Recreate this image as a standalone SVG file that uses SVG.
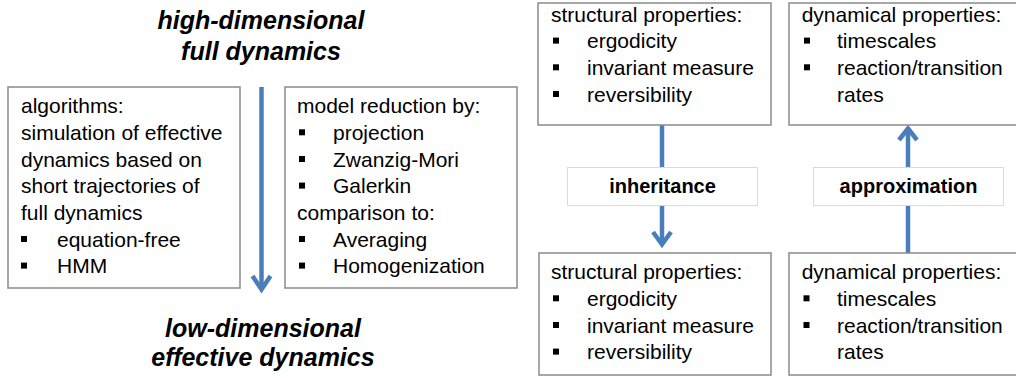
<svg xmlns="http://www.w3.org/2000/svg" width="1016" height="378" viewBox="0 0 1016 378">
<style>
.box{fill:#fff;stroke:#8a8a8a;stroke-width:1.5}
.lbl{fill:#fff;stroke:#dadada;stroke-width:1}
.t{font-family:"Liberation Sans",Arial,sans-serif;font-size:21px;fill:#000}
.b{font-family:"Liberation Sans",Arial,sans-serif;font-size:20px;font-weight:bold;fill:#000;text-anchor:middle}
.title{font-family:"Liberation Sans",Arial,sans-serif;font-size:25px;font-weight:bold;font-style:italic;fill:#000;text-anchor:middle}
.line{stroke:#4a7ebb;stroke-width:4.5;fill:none}
.head{stroke:#4a7ebb;stroke-width:4.5;fill:none;stroke-linejoin:miter;stroke-linecap:butt}
.bul{fill:#000}
</style>
<defs>
<rect id="bullet" width="6" height="6" class="bul"/>
</defs>

<g id="title-top">
<text class="title" x="261" y="29">high-dimensional</text>
<text class="title" x="261" y="60">full dynamics</text>
</g>
<g id="title-bottom">
<text class="title" x="263" y="337">low-dimensional</text>
<text class="title" x="263" y="366">effective dynamics</text>
</g>

<g id="connectors">
<line class="line" x1="261.5" y1="87" x2="261.5" y2="290"/>
<polyline class="head" points="252.5,276 261.5,289.5 270.5,276"/>
<line class="line" x1="662" y1="125" x2="662" y2="243"/>
<polyline class="head" points="653,232 662,244.5 671,232"/>
<line class="line" x1="908" y1="253" x2="908" y2="131"/>
<polyline class="head" points="899,140 908,128.5 917,140"/>
</g>

<g id="algorithms">
<rect class="box" x="8" y="87" width="232" height="201"/>
<text class="t" x="21" y="113">algorithms:</text>
<text class="t" x="21" y="140">simulation of effective</text>
<text class="t" x="21" y="166.7">dynamics based on</text>
<text class="t" x="21" y="193.3">short trajectories of</text>
<text class="t" x="21" y="220">full dynamics</text>
<use href="#bullet" x="21" y="236"/>
<text class="t" x="57" y="246.7">equation-free</text>
<use href="#bullet" x="21" y="262.6"/>
<text class="t" x="57" y="273.3">HMM</text>
</g>

<g id="model-reduction">
<rect class="box" x="285" y="87" width="232" height="201"/>
<text class="t" x="297" y="113">model reduction by:</text>
<use href="#bullet" x="299" y="129.3"/>
<text class="t" x="333" y="140">projection</text>
<use href="#bullet" x="299" y="156"/>
<text class="t" x="333" y="166.7">Zwanzig-Mori</text>
<use href="#bullet" x="299" y="182.6"/>
<text class="t" x="333" y="193.3">Galerkin</text>
<text class="t" x="297" y="220">comparison to:</text>
<use href="#bullet" x="299" y="236"/>
<text class="t" x="333" y="246.7">Averaging</text>
<use href="#bullet" x="299" y="262.6"/>
<text class="t" x="333" y="273.3">Homogenization</text>
</g>

<g id="structural-top">
<rect class="box" x="538" y="3" width="233" height="122"/>
<text class="t" x="551" y="21.7">structural properties:</text>
<use href="#bullet" x="553" y="37.6"/>
<text class="t" x="587" y="48.3">ergodicity</text>
<use href="#bullet" x="553" y="64.3"/>
<text class="t" x="587" y="75">invariant measure</text>
<use href="#bullet" x="553" y="91"/>
<text class="t" x="587" y="101.7">reversibility</text>
</g>

<g id="dynamical-top">
<rect class="box" x="789" y="3" width="240" height="122"/>
<text class="t" x="801.7" y="21.7">dynamical properties:</text>
<use href="#bullet" x="804" y="37.6"/>
<text class="t" x="837" y="48.3">timescales</text>
<use href="#bullet" x="804" y="64.3"/>
<text class="t" x="837" y="75">reaction/transition</text>
<text class="t" x="837" y="101.7">rates</text>
</g>

<g id="inheritance">
<rect class="lbl" x="567.5" y="167.5" width="190" height="38"/>
<text class="b" x="662.5" y="193.3">inheritance</text>
</g>

<g id="approximation">
<rect class="lbl" x="813.5" y="167.5" width="190" height="38"/>
<text class="b" x="908.5" y="193.3">approximation</text>
</g>

<g id="structural-bottom">
<rect class="box" x="539" y="253" width="232" height="122"/>
<text class="t" x="551" y="279.3">structural properties:</text>
<use href="#bullet" x="553" y="295.3"/>
<text class="t" x="587" y="306">ergodicity</text>
<use href="#bullet" x="553" y="322"/>
<text class="t" x="587" y="332.7">invariant measure</text>
<use href="#bullet" x="553" y="348.6"/>
<text class="t" x="587" y="359.3">reversibility</text>
</g>

<g id="dynamical-bottom">
<rect class="box" x="789" y="253" width="240" height="122"/>
<text class="t" x="801.7" y="279.3">dynamical properties:</text>
<use href="#bullet" x="803.5" y="295.3"/>
<text class="t" x="837" y="306">timescales</text>
<use href="#bullet" x="803.5" y="322"/>
<text class="t" x="837" y="332.7">reaction/transition</text>
<text class="t" x="837" y="359.3">rates</text>
</g>
</svg>
